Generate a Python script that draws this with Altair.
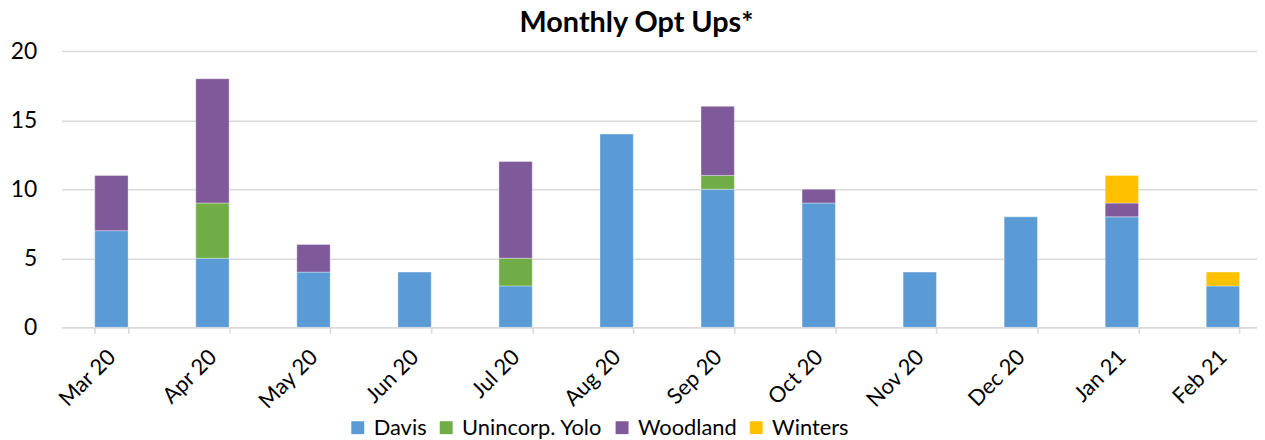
import altair as alt
import pandas as pd

months = ["Mar 20", "Apr 20", "May 20", "Jun 20", "Jul 20", "Aug 20",
          "Sep 20", "Oct 20", "Nov 20", "Dec 20", "Jan 21", "Feb 21"]
series = ["Davis", "Unincorp. Yolo", "Woodland", "Winters"]
colors = ["#5B9BD5", "#70AD47", "#7E5A9B", "#FFC000"]
davis = [7, 5, 4, 4, 3, 14, 10, 9, 4, 8, 8, 3]
unincorp = [0, 4, 0, 0, 2, 0, 1, 0, 0, 0, 0, 0]
woodland = [4, 9, 2, 0, 7, 0, 5, 1, 0, 0, 1, 0]
winters = [0, 0, 0, 0, 0, 0, 0, 0, 0, 0, 2, 1]

rows = []
for s_i, (name, vals) in enumerate(zip(series, [davis, unincorp, woodland, winters])):
    for m, v in zip(months, vals):
        if v > 0:
            rows.append({"month": m, "series": name, "value": v, "order": s_i})
df = pd.DataFrame(rows)

FONT = "Lato"

chart = alt.Chart(df).mark_bar(stroke="white", strokeWidth=0.6, strokeOpacity=0.6).encode(
    x=alt.X("month:N", sort=months, title=None,
            scale=alt.Scale(paddingInner=0.67, paddingOuter=0.25, align=0.655),
            axis=alt.Axis(labelAngle=-45, labelAlign="right", labelBaseline="middle",
                          labelFontSize=22, labelColor="#000000", labelFont=FONT,
                          labelPadding=20, tickBand="extent", ticks=True, tickSize=6,
                          tickColor="#d9d9d9", tickWidth=1.5, domainColor="#d9d9d9",
                          domainWidth=1.5, grid=False)),
    y=alt.Y("value:Q", stack="zero", title=None,
            scale=alt.Scale(domain=[0, 20], nice=False),
            axis=alt.Axis(values=[0, 5, 10, 15, 20], labelFontSize=23, labelColor="#000000",
                          labelFont=FONT, ticks=False, domain=False, labelPadding=25,
                          gridColor="#d9d9d9", gridWidth=1.5)),
    color=alt.Color("series:N", sort=series,
                    scale=alt.Scale(domain=series, range=colors),
                    legend=alt.Legend(title=None, orient="none", direction="horizontal",
                                      legendX=287, legendY=368, symbolType="square",
                                      symbolSize=169, symbolStrokeWidth=0,
                                      labelFontSize=22, labelFont=FONT, labelColor="#000000",
                                      columnPadding=8, labelOffset=5)),
    order=alt.Order("order:Q", sort="ascending"),
).properties(
    width=1203, height=278,
    title=alt.TitleParams("Monthly Opt Ups*", fontSize=29, fontWeight="bold", font=FONT,
                          color="#000000", anchor="middle", dx=-23, offset=2),
    padding={"left": 54, "top": 42, "right": 0, "bottom": 112},
    autosize=alt.AutoSizeParams(type="none"),
).configure_view(stroke=None)

chart.save("out.html", embed_options={"renderer": "svg", "actions": False})
